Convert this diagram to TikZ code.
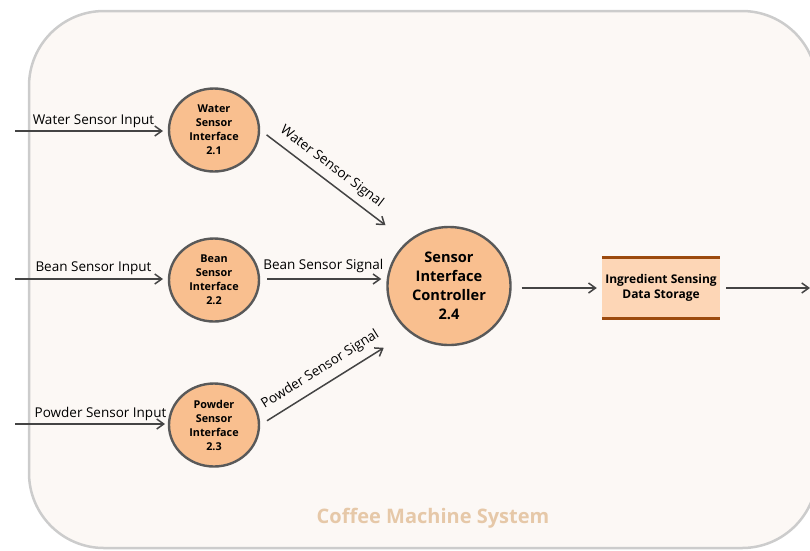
\documentclass[tikz,border=0pt]{standalone}
\usepackage{fontspec}
\setmainfont{Open Sans}
\usepackage{tikz}
\usetikzlibrary{shapes.geometric,arrows.meta}

\definecolor{procfill}{HTML}{F9BF8F}
\definecolor{procline}{HTML}{595959}
\definecolor{storefill}{HTML}{FDD6B6}
\definecolor{storebar}{HTML}{9C4A0E}
\definecolor{sysfill}{HTML}{FCF8F5}
\definecolor{sysline}{HTML}{CCCCCC}
\definecolor{syslabel}{HTML}{E6C8A8}
\definecolor{flowline}{HTML}{444444}

\begin{document}
\begin{tikzpicture}[x=1pt, y=-1pt,
    proc/.style={ellipse, draw=procline, line width=2.4pt, fill=procfill, inner sep=0pt,
                 align=center, font=\bfseries\fontsize{10.8}{14}\selectfont},
    flow/.style={draw=flowline, line width=1.5pt, -{Straight Barb[length=7pt,width=10pt,line width=1.5pt]}},
    lbl/.style={font=\fontsize{13.5}{15}\selectfont, text=black, inner sep=2.5pt}]
    \useasboundingbox (0,0) rectangle (810,550);
    \begin{scope}
        \clip (0,0) rectangle (810,550);
        \draw[sysline, fill=sysfill, line width=2.5pt, rounded corners=75pt] (29,11) rectangle (817,548);
    \end{scope}
    \node (sys) [text=syslabel, font=\bfseries\fontsize{20}{22}\selectfont] at (433,518) {Coffee Machine System};

    \node (water) [proc, minimum width=90pt, minimum height=83pt] at (214,130) {Water\\Sensor\\Interface\\2.1};
    \node (bean) [proc, minimum width=90pt, minimum height=83pt] at (214,280) {Bean\\Sensor\\Interface\\2.2};
    \node (powder) [proc, minimum width=90pt, minimum height=83pt] at (214,425) {Powder\\Sensor\\Interface\\2.3};
    \node (ctrl) [proc, minimum width=123pt, minimum height=118pt, font=\bfseries\fontsize{14.6}{19}\selectfont] at (449,286) {Sensor\\Interface\\Controller\\2.4};
    \node (store) [fill=storefill, minimum width=116pt, minimum height=60pt, align=center,
                   font=\bfseries\fontsize{12}{15}\selectfont] at (661,288) {Ingredient Sensing\\Data Storage};
    \draw[storebar, line width=3pt] (store.north west) -- (store.north east);
    \draw[storebar, line width=3pt] (store.south west) -- (store.south east);

    \coordinate (win) at (15,131);
    \coordinate (bin) at (15,279);
    \coordinate (pin) at (15,424);
    \coordinate (out) at (810,288);

    % inputs from outside the system
    \draw[flow] (win) -- (163,131) node[lbl, pos=0.53, above] {Water Sensor Input};
    \draw[flow] (bin) -- (163,279) node[lbl, pos=0.53, above=1.5pt] {Bean Sensor Input};
    \draw[flow] (pin) -- (165,424) node[lbl, pos=0.57, above] {Powder Sensor Input};

    % signals to the controller
    \draw[flow, shorten <=8pt, shorten >=1pt] (water.east) -- (ctrl.north -| ctrl.west) node[lbl, pos=0.5, above=4pt, sloped] {Water Sensor Signal};
    \draw[flow, shorten <=7pt, shorten >=5pt] (bean.east |- 0,279) -- (ctrl.west |- 0,279) node[lbl, midway, above=3.5pt] {Bean Sensor Signal};
    \draw[flow, shorten <=8pt, shorten >=3pt] (powder.east) -- (ctrl.south -| ctrl.west) node[lbl, pos=0.54, above=5pt, sloped] {Powder Sensor Signal};

    \draw[flow, shorten <=10pt, shorten >=5pt] (ctrl.east |- store) -- (store.west);
    \draw[flow, shorten <=6pt] (store.east) -- (out);
\end{tikzpicture}
\end{document}
